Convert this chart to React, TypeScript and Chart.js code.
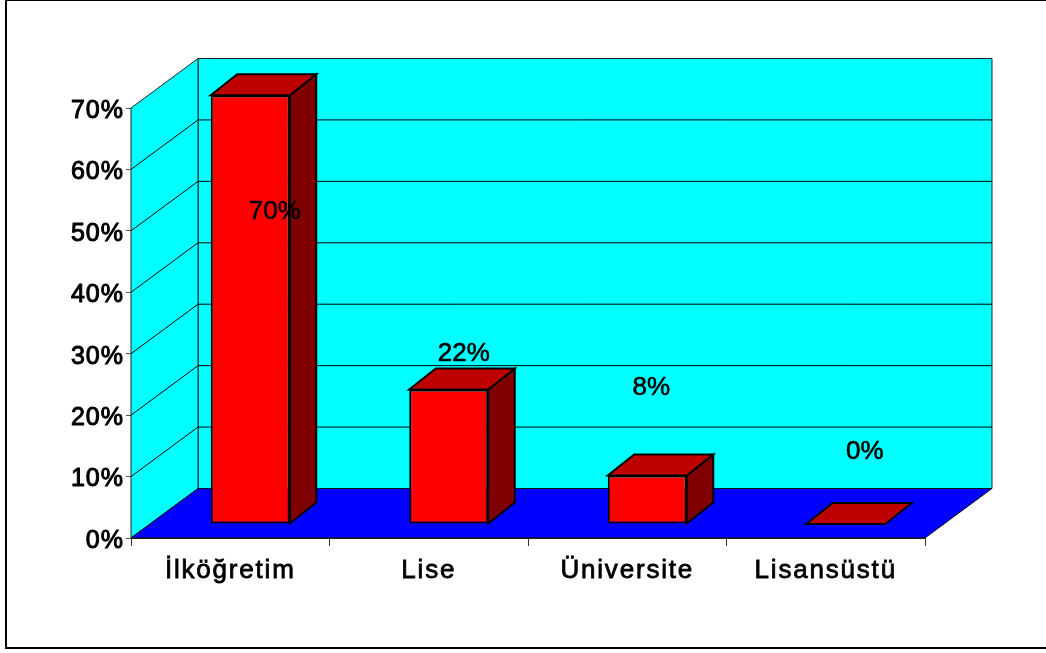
import React, { useEffect, useRef } from "react";
import { Chart, registerables } from "chart.js";

Chart.register(...registerables);

const categories = ["İlköğretim", "Lise", "Üniversite", "Lisansüstü"];
const shareValues = [69.8, 21.9, 7.9, 0];
const yTicks = { min: 0, max: 70, step: 10 };

const FONT = "'Liberation Sans', Arial, sans-serif";
const WALL_DEPTH = { dx: 67, dy: -49.5 };
const BAR_OFFSET = { dx: 20, dy: -14 };
const BAR_DEPTH = { dx: 26.5, dy: -21 };
const LABEL_NUDGE = [
  { dx: 24.5, dy: 116.5 },
  { dx: 15, dy: -35.5 },
  { dx: 4, dy: -87.5 },
  { dx: 19, dy: -72 },
];
const TICK_TEXT = {
  x: { spacing: "1.8px", shift: 1 },
  y: { spacing: "1px", shift: 3 },
};

function poly(ctx: CanvasRenderingContext2D, pts: number[][], fill: string, stroke: string, lw: number) {
  ctx.beginPath();
  pts.forEach((p, i) => (i ? ctx.lineTo(p[0], p[1]) : ctx.moveTo(p[0], p[1])));
  ctx.closePath();
  ctx.fillStyle = fill;
  ctx.fill();
  ctx.strokeStyle = stroke;
  ctx.lineWidth = lw;
  ctx.lineJoin = "miter";
  ctx.stroke();
}

function styleTickText(chart: any, id: "x" | "y") {
  const scale = chart.scales[id];
  if (scale.__styled) return;
  scale.__styled = true;
  const original = scale.drawLabels.bind(scale);
  scale.drawLabels = (area: any) => {
    const ctx = chart.ctx;
    ctx.save();
    ctx.translate(0, TICK_TEXT[id].shift);
    ctx.letterSpacing = TICK_TEXT[id].spacing;
    original(area);
    ctx.restore();
  };
}

const scene3d = {
  id: "scene3d",
  beforeDraw(chart: any) {
    const ctx = chart.ctx;
    ctx.save();
    ctx.strokeStyle = "#000";
    ctx.lineWidth = 2;
    ctx.strokeRect(6, 0, 1200, 648);
    ctx.restore();
    styleTickText(chart, "x");
    styleTickText(chart, "y");
  },
  beforeDatasetsDraw(chart: any) {
    const ctx = chart.ctx;
    const { left, right, top, bottom } = chart.chartArea;
    const { dx, dy } = WALL_DEPTH;
    ctx.save();
    poly(ctx, [[left + dx, top + dy], [right + dx, top + dy], [right + dx, bottom + dy], [left + dx, bottom + dy]], "#00ffff", "#222", 1);
    poly(ctx, [[left, top], [left + dx, top + dy], [left + dx, bottom + dy], [left, bottom]], "#00ffff", "#222", 1);
    const y = chart.scales.y;
    ctx.strokeStyle = "#000";
    ctx.lineWidth = 1;
    for (let v = yTicks.min + yTicks.step; v < yTicks.max; v += yTicks.step) {
      const py = y.getPixelForValue(v);
      ctx.beginPath();
      ctx.moveTo(left, py);
      ctx.lineTo(left + dx, py + dy);
      ctx.lineTo(right + dx, py + dy);
      ctx.stroke();
    }
    poly(ctx, [[left, bottom], [right, bottom], [right + dx, bottom + dy], [left + dx, bottom + dy]], "#0000ff", "#111", 1);
    ctx.restore();
  },
  beforeDatasetDraw(chart: any, args: any) {
    const ctx = chart.ctx;
    const bars = chart.getDatasetMeta(args.index).data;
    ctx.save();
    ctx.translate(BAR_OFFSET.dx, BAR_OFFSET.dy);
    const { dx, dy } = BAR_DEPTH;
    bars.forEach((b: any) => {
      const l = b.x - b.width / 2;
      const r = b.x + b.width / 2;
      if (b.base - b.y > 0.5) {
        poly(ctx, [[r, b.y], [r + dx, b.y + dy], [r + dx, b.base + dy], [r, b.base]], "#7f0000", "#000", 2);
      }
      poly(ctx, [[l, b.y], [r, b.y], [r + dx, b.y + dy], [l + dx, b.y + dy]], "#bf0000", "#000", 2);
    });
  },
  afterDatasetDraw(chart: any) {
    chart.ctx.restore();
  },
  afterDatasetsDraw(chart: any) {
    const ctx = chart.ctx;
    const bars = chart.getDatasetMeta(0).data;
    ctx.save();
    ctx.fillStyle = "#000";
    ctx.strokeStyle = "#000";
    ctx.lineWidth = 0.6;
    ctx.font = `26px ${FONT}`;
    ctx.textAlign = "center";
    ctx.textBaseline = "middle";
    bars.forEach((b: any, i: number) => {
      const cx = b.x + BAR_OFFSET.dx + LABEL_NUDGE[i].dx;
      const cy = b.y + BAR_OFFSET.dy + LABEL_NUDGE[i].dy;
      const text = `${Math.round(shareValues[i])}%`;
      ctx.strokeText(text, cx, cy);
      ctx.fillText(text, cx, cy);
    });
    ctx.restore();
  },
};

export default function App() {
  const ref = useRef<HTMLCanvasElement>(null);
  useEffect(() => {
    document.body.style.margin = "0";
    const chart = new Chart(ref.current!, {
      type: "bar",
      data: {
        labels: categories,
        datasets: [
          {
            data: shareValues,
            backgroundColor: "#ff0000",
            borderColor: "#000",
            borderWidth: 2,
            borderSkipped: false,
            barPercentage: 0.398,
            categoryPercentage: 1,
            clip: false,
          } as any,
        ],
      },
      options: {
        responsive: false,
        animation: false,
        events: [],
        layout: { padding: { top: 108, right: 121, left: 0, bottom: 0 } },
        plugins: { legend: { display: false }, title: { display: false }, tooltip: { enabled: false } },
        scales: {
          x: {
            afterFit: (s: any) => { s.height = 115; },
            grid: { drawOnChartArea: false, tickLength: 8, color: "#333", offset: true },
            border: { color: "#333" },
            ticks: {
              color: "#000",
              padding: 8,
              maxRotation: 0,
              autoSkip: false,
              font: { family: FONT, size: 26 },
              textStrokeColor: "#000",
              textStrokeWidth: 0.8,
            } as any,
          },
          y: {
            min: yTicks.min,
            max: yTicks.max,
            afterFit: (s: any) => { s.width = 131; },
            grid: { drawOnChartArea: false, tickLength: 5, color: "#555" },
            border: { color: "#333" },
            ticks: {
              stepSize: yTicks.step,
              color: "#000",
              padding: 2,
              callback: (v: any) => `${v}%`,
              font: { family: FONT, size: 25 },
              textStrokeColor: "#000",
              textStrokeWidth: 1.0,
            } as any,
          },
        },
      },
      plugins: [scene3d],
    });
    return () => chart.destroy();
  }, []);
  return <canvas ref={ref} width={1046} height={653} style={{ display: "block" }} />;
}
